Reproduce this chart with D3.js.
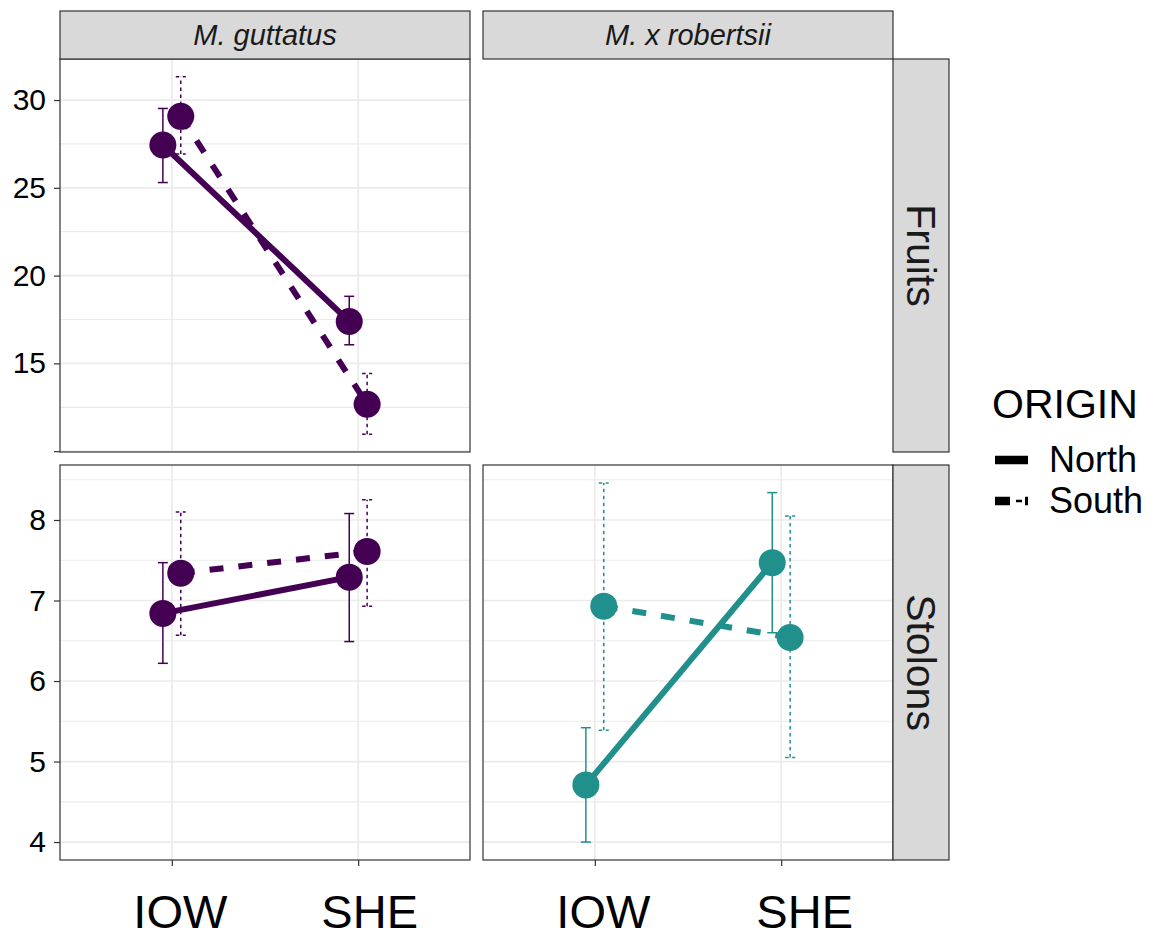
<!DOCTYPE html>
<html>
<head>
<meta charset="utf-8">
<script src="https://cdn.jsdelivr.net/npm/d3@7"></script>
<style>
  body { margin: 0; background: #fff; }
  svg { font-family: "Liberation Sans", Arial, sans-serif; }
</style>
</head>
<body>
<svg id="chart" width="1161" height="945"></svg>
<script>
//facets and groups
var species = ["M. guttatus", "M. x robertsii"];
var traits = ["Fruits", "Stolons"];
var sites = ["IOW", "SHE"];
var origins = ["North", "South"];

//[mean, lower, upper] per site, IOW then SHE
var fruitsGutNorth = [[27.44, 25.30, 29.52], [17.39, 16.06, 18.82]];
var fruitsGutSouth = [[29.07, 26.93, 31.32], [12.67, 10.97, 14.43]];
var stolonsGutNorth = [[6.84, 6.22, 7.47], [7.29, 6.49, 8.08]];
var stolonsGutSouth = [[7.34, 6.57, 8.10], [7.61, 6.93, 8.25]];
var stolonsRobNorth = [[4.71, 4.00, 5.42], [7.47, 6.60, 8.34]];
var stolonsRobSouth = [[6.93, 5.39, 8.46], [6.54, 5.05, 8.05]];

//tick labels
var fruitsTicks = [10, 15, 20, 25, 30];
var fruitsTickLabels = ["", "15", "20", "25", "30"];
var stolonsTicks = [4, 5, 6, 7, 8];
var stolonsTickLabels = ["4", "5", "6", "7", "8"];

var colors = {"M. guttatus": "#440154", "M. x robertsii": "#21908C"};

//panel layout
var colX = [60, 483], colW = 410;
var rowY = [59, 465], rowH = [393, 395];
var stripH = 48, stripW = 56;
//x labels sit a little right of their ticks in the original
var xLabelShift = [[8, 11], [8, 23]];

var svg = d3.select("#chart");

//y scales with 5% expansion like ggplot
function yScaleFor(seriesList, row) {
    var vals = [];
    seriesList.forEach(function(s) { s.forEach(function(d) { vals.push(d[1], d[2]); }); });
    var ext = d3.extent(vals), pad = (ext[1] - ext[0]) * 0.05;
    return d3.scaleLinear()
        .domain([ext[0] - pad, ext[1] + pad])
        .range([rowY[row] + rowH[row], rowY[row]]);
}
var yFruits = yScaleFor([fruitsGutNorth, fruitsGutSouth], 0);
var yStolons = yScaleFor([stolonsGutNorth, stolonsGutSouth, stolonsRobNorth, stolonsRobSouth], 1);

function xScaleFor(col) {
    return d3.scalePoint().domain(sites).range([colX[col], colX[col] + colW]).padding(0.6);
}

var panels = [
    {row: 0, col: 0, y: yFruits, ticks: fruitsTicks, series: [fruitsGutNorth, fruitsGutSouth]},
    {row: 0, col: 1, y: yFruits, ticks: fruitsTicks, series: null},
    {row: 1, col: 0, y: yStolons, ticks: stolonsTicks, series: [stolonsGutNorth, stolonsGutSouth]},
    {row: 1, col: 1, y: yStolons, ticks: stolonsTicks, series: [stolonsRobNorth, stolonsRobSouth]}
];

panels.forEach(function(p) {
    //empty facet has no panel drawn
    if (!p.series) return;
    var x = xScaleFor(p.col);
    var x0 = colX[p.col], y0 = rowY[p.row], h = rowH[p.row];
    var g = svg.append("g");
    var col = colors[species[p.col]];

    //minor grid
    var half = (p.ticks[1] - p.ticks[0]) / 2;
    var minor = [p.ticks[0] - half].concat(p.ticks.map(function(t) { return t + half; }))
        .filter(function(v) { return v > p.y.domain()[0] && v < p.y.domain()[1]; });
    g.selectAll(".minor").data(minor).enter().append("line")
        .attr("x1", x0).attr("x2", x0 + colW)
        .attr("y1", p.y).attr("y2", p.y)
        .attr("stroke", "#EBEBEB").attr("stroke-width", 1.2);
    //major grid
    g.selectAll(".major").data(p.ticks).enter().append("line")
        .attr("x1", x0).attr("x2", x0 + colW)
        .attr("y1", p.y).attr("y2", p.y)
        .attr("stroke", "#EBEBEB").attr("stroke-width", 1.7);
    g.selectAll(".vmajor").data(sites).enter().append("line")
        .attr("x1", x).attr("x2", x)
        .attr("y1", y0).attr("y2", y0 + h)
        .attr("stroke", "#EBEBEB").attr("stroke-width", 1.7);

    var dodge = x.step() * 0.048;
    //error bars
    p.series.forEach(function(s, si) {
        var off = si === 0 ? -dodge : dodge;
        var dash = si === 0 ? null : "3.5,3.5";
        var eb = g.append("g");
        s.forEach(function(d, i) {
            var cx = x(sites[i]) + off;
            eb.append("line").attr("x1", cx).attr("x2", cx)
                .attr("y1", p.y(d[1])).attr("y2", p.y(d[2]))
                .attr("stroke", col).attr("stroke-width", 1.5).attr("stroke-dasharray", dash);
            [d[1], d[2]].forEach(function(v) {
                eb.append("line").attr("x1", cx - 5).attr("x2", cx + 5)
                    .attr("y1", p.y(v)).attr("y2", p.y(v))
                    .attr("stroke", col).attr("stroke-width", 1.5).attr("stroke-dasharray", dash);
            });
        });
    });
    //lines
    p.series.forEach(function(s, si) {
        var off = si === 0 ? -dodge : dodge;
        var line = d3.line()
            .x(function(d, i) { return x(sites[i]) + off; })
            .y(function(d) { return p.y(d[0]); });
        g.append("path").datum(s)
            .attr("d", line)
            .attr("fill", "none")
            .attr("stroke", col)
            .attr("stroke-width", 6)
            .attr("stroke-dasharray", si === 0 ? null : "14,15");
    });
    //points
    p.series.forEach(function(s, si) {
        var off = si === 0 ? -dodge : dodge;
        g.selectAll(".pt" + si).data(s).enter().append("circle")
            .attr("cx", function(d, i) { return x(sites[i]) + off; })
            .attr("cy", function(d) { return p.y(d[0]); })
            .attr("r", 13.5)
            .attr("fill", col);
    });

    //panel border
    g.append("rect").attr("x", x0).attr("y", y0).attr("width", colW).attr("height", h)
        .attr("fill", "none").attr("stroke", "#333333").attr("stroke-width", 1.2);
});

//top strips
species.forEach(function(sp, c) {
    svg.append("rect").attr("x", colX[c]).attr("y", rowY[0] - stripH)
        .attr("width", colW).attr("height", stripH)
        .attr("fill", "#D9D9D9").attr("stroke", "#333333").attr("stroke-width", 1.2);
    svg.append("text").attr("x", colX[c] + colW / 2).attr("y", rowY[0] - stripH / 2 + 10)
        .attr("text-anchor", "middle").attr("font-style", "italic")
        .attr("font-size", 29).attr("fill", "#1A1A1A").text(sp);
});
//right strips
traits.forEach(function(t, r) {
    var sx = colX[1] + colW;
    svg.append("rect").attr("x", sx).attr("y", rowY[r])
        .attr("width", stripW).attr("height", rowH[r])
        .attr("fill", "#D9D9D9").attr("stroke", "#333333").attr("stroke-width", 1.2);
    svg.append("text")
        .attr("transform", "translate(" + (sx + stripW / 2 - 14) + "," + (rowY[r] + rowH[r] / 2) + ") rotate(90)")
        .attr("text-anchor", "middle")
        .attr("font-size", 41).attr("fill", "#1A1A1A").text(t);
});

//y axes
var yAxes = [
    {scale: yFruits, ticks: fruitsTicks, labels: fruitsTickLabels},
    {scale: yStolons, ticks: stolonsTicks, labels: stolonsTickLabels}
];
yAxes.forEach(function(a) {
    var ax = svg.append("g").attr("transform", "translate(" + colX[0] + ",0)")
        .call(d3.axisLeft(a.scale).tickValues(a.ticks).tickSize(6).tickPadding(8)
            .tickFormat(function(d, i) { return a.labels[i]; }));
    ax.select(".domain").remove();
    ax.selectAll("line").attr("stroke", "#333333").attr("stroke-width", 1.2);
    ax.selectAll("text").attr("font-size", 30).attr("fill", "#000")
        .attr("font-family", "Liberation Sans, Arial, sans-serif");
});

//x axes
[0, 1].forEach(function(c) {
    var ax = svg.append("g").attr("transform", "translate(0," + (rowY[1] + rowH[1]) + ")")
        .call(d3.axisBottom(xScaleFor(c)).tickSize(6).tickPadding(29));
    ax.select(".domain").remove();
    ax.selectAll("line").attr("stroke", "#333333").attr("stroke-width", 1.2);
    ax.selectAll("text").attr("font-size", 47).attr("fill", "#000")
        .attr("dx", function(d, i) { return xLabelShift[c][i]; })
        .attr("font-family", "Liberation Sans, Arial, sans-serif");
});

//legend
var legend = svg.append("g");
legend.append("text").attr("x", 992).attr("y", 418)
    .attr("font-size", 41).attr("fill", "#000").text("ORIGIN");
origins.forEach(function(o, i) {
    var ky = 460 + i * 41;
    legend.append("line").attr("x1", 995).attr("x2", 1028).attr("y1", ky).attr("y2", ky)
        .attr("stroke", "#000").attr("stroke-width", 8.5)
        .attr("stroke-dasharray", i === 0 ? null : "15,15");
    if (i === 1) {
        legend.append("line").attr("x1", 995).attr("x2", 1028).attr("y1", ky).attr("y2", ky)
            .attr("stroke", "#000").attr("stroke-width", 2.5)
            .attr("stroke-dasharray", "0,21,6,12");
    }
    legend.append("text").attr("x", 1049).attr("y", ky + 12)
        .attr("font-size", 36).attr("fill", "#000").text(o);
});
</script>
</body>
</html>
